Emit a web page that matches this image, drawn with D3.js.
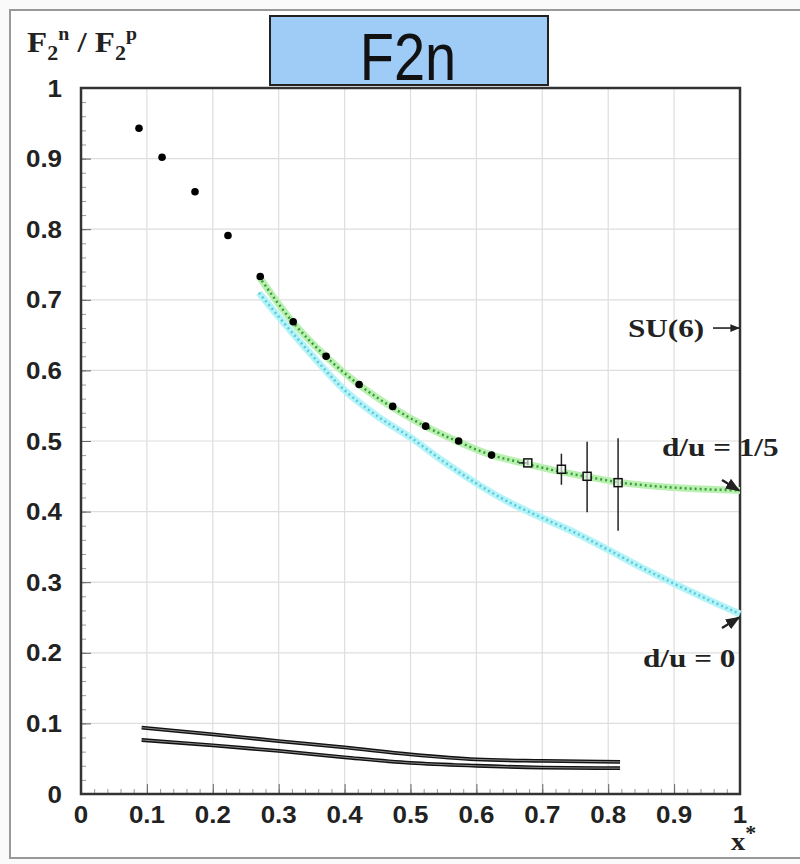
<!DOCTYPE html>
<html><head><meta charset="utf-8">
<script src="https://cdn.jsdelivr.net/npm/d3@7"></script>
<style>body{margin:0;background:#fff;} svg{display:block;}</style>
</head><body>
<svg id="c" width="800" height="864"></svg>
<script>
// ---- data ----
const xTicks = [0,0.1,0.2,0.3,0.4,0.5,0.6,0.7,0.8,0.9,1];
const yTicks = [0,0.1,0.2,0.3,0.4,0.5,0.6,0.7,0.8,0.9,1];
const dotX = [0.088,0.123,0.173,0.223,0.272,0.322,0.372,0.422,0.473,0.523,0.573,0.623];
const dotY = [0.943,0.902,0.853,0.791,0.733,0.669,0.620,0.580,0.549,0.521,0.500,0.480];
const sqX  = [0.678,0.729,0.768,0.815];
const sqY  = [0.469,0.460,0.450,0.441];
const sqLo = [0.466,0.438,0.399,0.373];
const sqHi = [0.473,0.482,0.499,0.504];
const greenX = [0.27,0.32,0.37,0.42,0.47,0.52,0.57,0.62,0.67,0.72,0.77,0.82,0.9,1.0];
const greenY = [0.733,0.670,0.621,0.581,0.549,0.522,0.500,0.481,0.469,0.458,0.449,0.441,0.434,0.430];
const cyanX = [0.27,0.3,0.35,0.4,0.45,0.5,0.55,0.6,0.65,0.7,0.75,0.8,0.85,0.9,0.95,1.0];
const cyanY = [0.710,0.676,0.622,0.572,0.535,0.505,0.471,0.440,0.413,0.391,0.370,0.346,0.321,0.298,0.276,0.255];
const lowX  = [0.092,0.2,0.3,0.4,0.5,0.6,0.7,0.818];
const upY   = [0.094,0.0845,0.075,0.066,0.056,0.049,0.047,0.0455];
const lowY  = [0.0765,0.069,0.061,0.052,0.044,0.040,0.0375,0.0366];

const svg = d3.select("#c");
const x = d3.scaleLinear().domain([0,1]).range([81,740]);
const y = d3.scaleLinear().domain([0,1]).range([794,88]);

// outer frame
svg.append("rect").attr("x",0).attr("y",0).attr("width",800).attr("height",864).attr("fill","#fafafa");
svg.append("rect").attr("x",10).attr("y",10).attr("width",800).attr("height",848)
  .attr("fill","#fff").attr("stroke","#999").attr("stroke-width",2);

// grid
const g = svg.append("g");
g.selectAll(".gx").data(xTicks.slice(1,-1)).join("line")
  .attr("x1",d=>x(d)).attr("x2",d=>x(d)).attr("y1",y(0)).attr("y2",y(1))
  .attr("stroke","#dedede").attr("stroke-width",1.2);
g.selectAll(".gy").data(yTicks.slice(1,-1)).join("line")
  .attr("y1",d=>y(d)).attr("y2",d=>y(d)).attr("x1",x(0)).attr("x2",x(1))
  .attr("stroke","#dedede").attr("stroke-width",1.2);

// axes (ticks inward)
const minor = d3.range(0,1.0001,0.02);
svg.append("g").attr("transform",`translate(0,${y(0)})`)
  .call(d3.axisTop(x).tickValues(minor).tickSize(5).tickFormat(""))
  .call(s=>{s.select(".domain").remove(); s.selectAll("line").attr("stroke","#999");});
svg.append("g").attr("transform",`translate(0,${y(0)})`)
  .call(d3.axisTop(x).tickValues(xTicks).tickSize(10).tickFormat(""))
  .call(s=>{s.select(".domain").remove(); s.selectAll("line").attr("stroke","#666");});
svg.append("g").attr("transform",`translate(${x(0)},0)`)
  .call(d3.axisRight(y).tickValues(minor).tickSize(5).tickFormat(""))
  .call(s=>{s.select(".domain").remove(); s.selectAll("line").attr("stroke","#999");});
svg.append("g").attr("transform",`translate(${x(0)},0)`)
  .call(d3.axisRight(y).tickValues(yTicks).tickSize(10).tickFormat(""))
  .call(s=>{s.select(".domain").remove(); s.selectAll("line").attr("stroke","#666");});

// tick labels
const sans = "Liberation Sans, Arial, sans-serif";
const fmt = d => d===0?"0":d===1?"1":d3.format(".1f")(d);
svg.append("g").selectAll("text").data(xTicks).join("text")
  .attr("transform",d=>`translate(${x(d)},823) scale(1.08,1)`).attr("text-anchor","middle")
  .attr("font-family",sans).attr("font-weight","bold")
  .attr("font-size",24).attr("fill","#222").text(fmt);
svg.append("g").selectAll("text").data(yTicks).join("text")
  .attr("transform",d=>`translate(62,${y(d)+8.5}) scale(1.08,1)`).attr("text-anchor","end")
  .attr("font-family",sans).attr("font-weight","bold")
  .attr("font-size",24).attr("fill","#222").text(fmt);

// frame
svg.append("rect").attr("x",x(0)).attr("y",y(1)).attr("width",x(1)-x(0)).attr("height",y(0)-y(1))
  .attr("fill","none").attr("stroke","#333").attr("stroke-width",2.5);

// curves
const line = d3.line().x(d=>x(d[0])).y(d=>y(d[1])).curve(d3.curveMonotoneX);
const greenPts = d3.zip(greenX,greenY), cyanPts = d3.zip(cyanX,cyanY);
svg.append("path").attr("d",line(cyanPts)).attr("fill","none").attr("stroke","#b4f4f8").attr("stroke-width",7);
svg.append("path").attr("d",line(cyanPts)).attr("fill","none").attr("stroke","#5cc8d8").attr("stroke-width",2.5).attr("stroke-dasharray","2,3");
svg.append("path").attr("d",line(greenPts)).attr("fill","none").attr("stroke","#b8f0b0").attr("stroke-width",7);
svg.append("path").attr("d",line(greenPts)).attr("fill","none").attr("stroke","#3c9a3c").attr("stroke-width",2.5).attr("stroke-dasharray","2,3");

// bottom black double lines
[upY,lowY].forEach(arr=>{
  const pts = d3.zip(lowX,arr);
  svg.append("path").attr("d",line(pts)).attr("fill","none").attr("stroke","#111").attr("stroke-width",3.8);
  svg.append("path").attr("d",line(pts)).attr("fill","none").attr("stroke","#bbb").attr("stroke-width",0.7);
});

// filled dots
svg.append("g").selectAll("circle").data(d3.zip(dotX,dotY)).join("circle")
  .attr("cx",d=>x(d[0])).attr("cy",d=>y(d[1])).attr("r",3.8).attr("fill","#000");

// error bars + open squares
const sq = d3.range(sqX.length);
svg.append("g").selectAll("line").data(sq).join("line")
  .attr("x1",i=>x(sqX[i])).attr("x2",i=>x(sqX[i])).attr("y1",i=>y(sqLo[i])).attr("y2",i=>y(sqHi[i]))
  .attr("stroke","#222").attr("stroke-width",1.5);
svg.append("line").attr("x1",x(sqX[0])-9).attr("x2",x(sqX[0])).attr("y1",y(sqY[0])).attr("y2",y(sqY[0]))
  .attr("stroke","#222").attr("stroke-width",1.5);
svg.append("g").selectAll("rect").data(sq).join("rect")
  .attr("x",i=>x(sqX[i])-4).attr("y",i=>y(sqY[i])-4).attr("width",8).attr("height",8)
  .attr("fill","#fff").attr("fill-opacity",0.6).attr("stroke","#111").attr("stroke-width",1.5);

// title box
svg.append("rect").attr("x",270).attr("y",16).attr("width",278).attr("height",69)
  .attr("fill","#9fcbf7").attr("stroke","#222").attr("stroke-width",2);
svg.append("text").attr("transform","translate(408,80) scale(1,1.2)").attr("text-anchor","middle")
  .attr("font-family",sans).attr("font-size",56).attr("fill","#111").text("F2n");

// y title
const serif = "Liberation Serif, Times New Roman, serif";
const yt = svg.append("text").attr("transform","translate(27,52) scale(1.1,1)").attr("font-family",serif)
  .attr("font-weight","bold").attr("font-size",30).attr("fill","#222");
yt.append("tspan").text("F");
yt.append("tspan").attr("font-size",20).attr("dy",8).text("2");
yt.append("tspan").attr("font-size",18).attr("dy",-20).text("n");
yt.append("tspan").attr("dy",12).text(" / F");
yt.append("tspan").attr("font-size",20).attr("dy",8).text("2");
yt.append("tspan").attr("font-size",18).attr("dy",-20).text("p");

// annotations
const defs = svg.append("defs");
defs.append("marker").attr("id","ah").attr("viewBox","0 0 10 10").attr("refX",9).attr("refY",5)
  .attr("markerWidth",6).attr("markerHeight",6).attr("orient","auto")
  .append("path").attr("d","M0,1 L10,5 L0,9 z").attr("fill","#222");
const ann = (tx,ty,t)=>svg.append("text").attr("transform",`translate(${tx},${ty}) scale(1.2,1)`).attr("font-family",serif)
  .attr("font-weight","bold").attr("font-size",26).attr("fill","#222").text(t);
ann(628,337,"SU(6)");
svg.append("line").attr("x1",713).attr("y1",y(0.66)).attr("x2",x(1)-1).attr("y2",y(0.66))
  .attr("stroke","#222").attr("stroke-width",1.6).attr("marker-end","url(#ah)");
ann(662,456,"d/u = 1/5");
svg.append("line").attr("x1",722).attr("y1",480).attr("x2",x(1)-1).attr("y2",y(0.43))
  .attr("stroke","#222").attr("stroke-width",2.4).attr("marker-end","url(#ah)");
ann(643,667,"d/u = 0");
svg.append("line").attr("x1",722).attr("y1",628).attr("x2",x(1)-1).attr("y2",y(0.25))
  .attr("stroke","#222").attr("stroke-width",2.4).attr("marker-end","url(#ah)");
const xl = svg.append("text").attr("transform","translate(731,850) scale(1.1,1)").attr("font-family",serif)
  .attr("font-weight","bold").attr("font-size",26).attr("fill","#222");
xl.append("tspan").text("x");
xl.append("tspan").attr("dy",-10).attr("font-size",20).text("*");
</script>
</body></html>
